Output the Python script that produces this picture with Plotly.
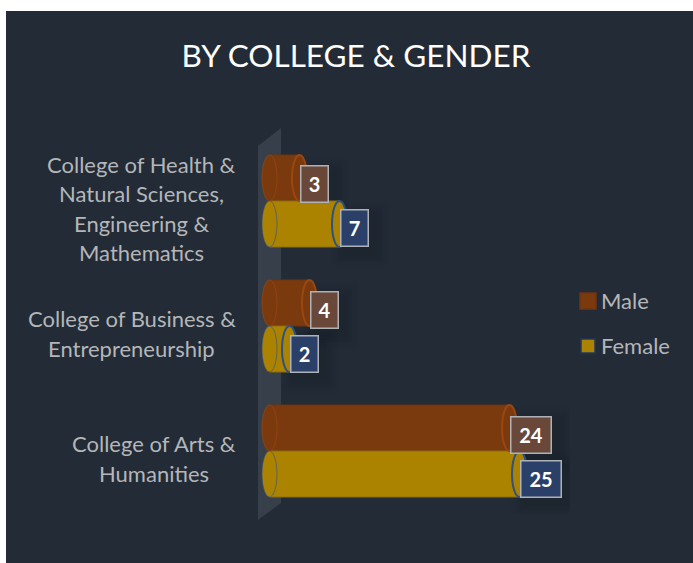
import plotly.graph_objects as go

categories = ["College of Health &<br>Natural Sciences,<br>Engineering &<br>Mathematics",
              "College of Business &<br>Entrepreneurship",
              "College of Arts &<br>Humanities"]
male = [3, 4, 24]
female = [7, 2, 25]
series_names = ["Male", "Female"]
title = "BY COLLEGE & GENDER"

W, H = 693, 563
FONT = "Lato"
PANEL = "#222b36"
MALE, MALE_EDGE, MALE_BOX, MALE_RIM = "#7b3a0e", "#9a4712", "#69483a", "#6f3410"
FEMALE, FEMALE_EDGE, FEMALE_BOX, FEMALE_RIM = "#ab8300", "#2f5083", "#2a4069", "#8c6f0c"
GREY = "#b4b6b9"

# plot area in pixels
px0, px1, py0, py1 = 249.5, 569.5, 138.5, 513.5
BAR_OFF = 0.184   # half a bar, in band units
CAP = 0.75        # half the width of a cylinder end, in value units
BAR_H = 0.184
XU, YU = 10.0, 125.0  # pixels per value unit / band
LABEL_CX = [141.5, 131.5, 154]
LINE = 29.5

fig = go.Figure()
ys = list(range(len(categories)))
for name, vals, col, rim in [(series_names[0], male, MALE, MALE_RIM), (series_names[1], female, FEMALE, FEMALE_RIM)]:
    fig.add_trace(go.Bar(y=ys, x=vals, name=name, orientation="h",
                         marker=dict(color=col, line=dict(color=rim, width=1)),
                         hoverinfo="x+name"))

shapes = []
def px(x): return x / W
def py(y): return 1 - y / H

# background panel and wall
shapes.append(dict(type="rect", xref="paper", yref="paper", x0=px(6), x1=1, y0=0, y1=py(11),
                   fillcolor=PANEL, line_width=0, layer="below"))
shapes.append(dict(type="path", xref="paper", yref="paper", layer="below", line_width=0, fillcolor="#373f4a",
                   path=f"M {px(258)} {py(146)} L {px(281)} {py(128)} L {px(281)} {py(503)} L {px(258)} {py(520)} Z"))

annotations = []
for i, cat in enumerate(categories):
    lines = cat.split("<br>")
    for j, line in enumerate(lines):
        annotations.append(dict(text=line, xref="x domain", yref="y", x=0, y=i, xanchor="center", showarrow=False,
                                xshift=LABEL_CX[i] - px0,
                                yshift=-((j - (len(lines) - 1) / 2) * LINE) - 7.7,
                                font=dict(family=FONT, size=22, color=GREY)))

for side, vals, col, edge, cap_line, box, yshift in [
        (-1, male, MALE, MALE_EDGE, "rgba(160,74,18,0.6)", MALE_BOX, -6.5),
        (1, female, FEMALE, FEMALE_EDGE, "rgba(47,80,131,0.6)", FEMALE_BOX, -4.5)]:
    for i, v in enumerate(vals):
        yc = i + side * BAR_OFF
        # soft shadow behind the value box
        bw = 29 if v < 10 else 42
        for grow, alpha in [(14, 0.012), (11, 0.015), (8, 0.018), (5, 0.02), (2, 0.025)]:
            shapes.append(dict(type="rect", xref="x", yref="y", layer="below", line_width=0,
                               x0=v + (6 - grow) / XU, x1=v + (bw + 6 + grow) / XU,
                               y0=yc + (-yshift - 19 + 6 - grow) / YU, y1=yc + (-yshift + 19 + 6 + grow) / YU,
                               fillcolor=f"rgba(0,0,0,{alpha})"))
        for x_c, lw, ec in [(0, 1, cap_line), (v, 2, edge)]:
            shapes.append(dict(type="circle", xref="x", yref="y", x0=x_c - CAP, x1=x_c + CAP,
                               y0=yc - BAR_H, y1=yc + BAR_H, fillcolor=col,
                               line=dict(color=ec, width=lw), layer="above"))
        annotations.append(dict(text=f"<b>{v}</b>", xref="x", yref="y", x=v, y=yc, xanchor="left", yanchor="middle",
                                yshift=yshift, showarrow=False, width=bw - 3, height=35,
                                bgcolor=box, bordercolor="#aeb2b6", borderwidth=1.5, borderpad=0,
                                font=dict(family=FONT, size=20, color="#ffffff"), align="center"))

# legend
for name, yc, col, edge, half in [(series_names[0], 301, MALE, MALE_RIM, 8), (series_names[1], 346, FEMALE, "#24395e", 7)]:
    shapes.append(dict(type="rect", xref="paper", yref="paper", x0=px(588 - half), x1=px(588 + half),
                       y0=py(yc + half), y1=py(yc - half), fillcolor=col, line=dict(color=edge, width=1.5)))
    annotations.append(dict(text=name, xref="paper", yref="paper", x=px(598.5), y=py(yc - 0.5), xanchor="left",
                            yanchor="middle", showarrow=False, font=dict(family=FONT, size=22, color=GREY)))

fig.update_layout(
    width=W, height=H, autosize=False,
    paper_bgcolor="#ffffff", plot_bgcolor="rgba(0,0,0,0)",
    margin=dict(l=0, r=0, t=0, b=0),
    barmode="group", bargap=0.264, bargroupgap=0,
    title=dict(text=title, x=356 / W, xanchor="center", y=1 - 56 / H, yanchor="middle",
               font=dict(family=FONT, size=31.5, color="#ffffff")),
    xaxis=dict(domain=[px(px0), px(px1)], range=[-2, 30], visible=False),
    yaxis=dict(domain=[py(py1), py(py0)], range=[2.5, -0.5], visible=False),
    showlegend=False, shapes=shapes, annotations=annotations,
)
fig.write_html("out.html", config=dict(displayModeBar=False),
               post_script="document.body.style.margin='0';document.body.style.overflow='hidden';")
